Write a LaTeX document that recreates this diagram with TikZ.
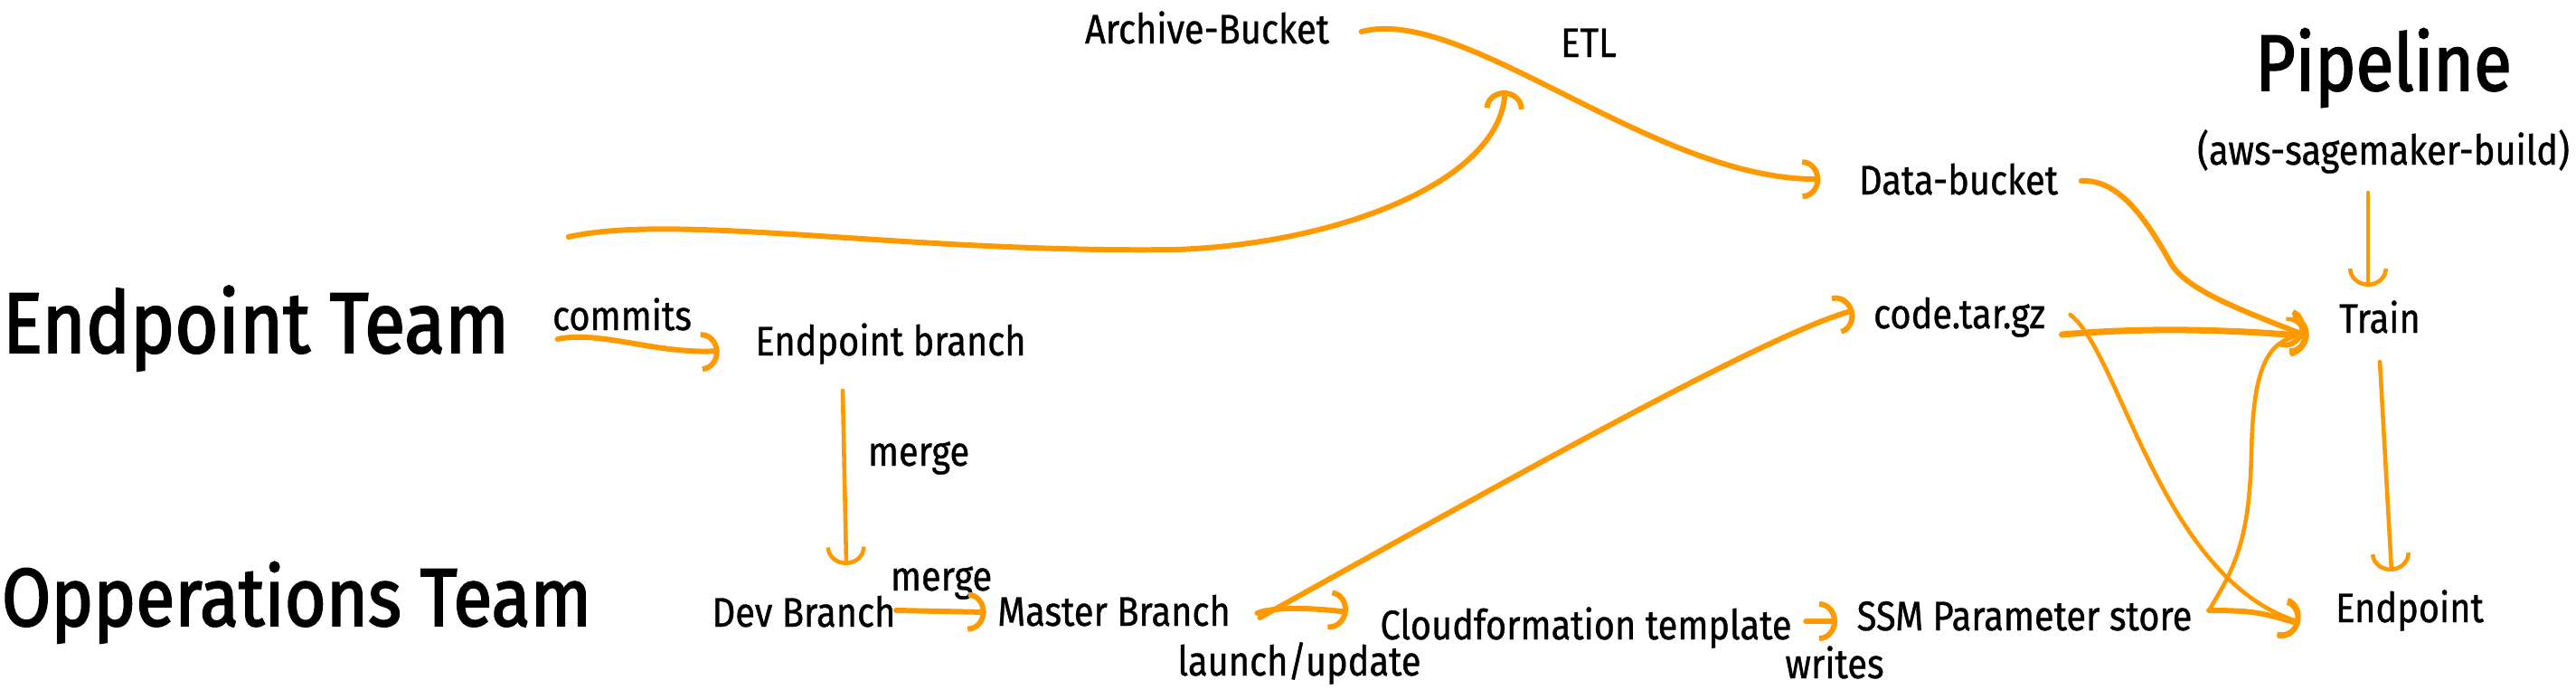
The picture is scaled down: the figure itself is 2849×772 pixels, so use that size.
\documentclass[tikz,border=0pt]{standalone}
\usepackage{fontspec}
\setmainfont{Fira Sans}[FakeStretch=0.87,FakeBold=0.8]
\usetikzlibrary{calc,arrows.meta}

\definecolor{awsorange}{RGB}{255,153,0}

\begin{document}
\begin{tikzpicture}[x=.01cm,y=-.01cm,
    txt/.style={inner sep=0pt,anchor=base,font=\fontsize{13}{15}\selectfont},
    team/.style={inner sep=0pt,anchor=base,font=\fontsize{27}{30}\selectfont\addfontfeature{FakeBold=2}},
    flow/.style={draw=awsorange,line width=1.7pt,line cap=round,-{Arc Barb[length=2mm,width=4.4mm]}},
    thinflow/.style={flow,line width=1.3pt}]

  \useasboundingbox (0,0) rectangle (2849,772);

  %%%% Team and pipeline titles %%%%
  \node[team] (teamEP)  at (283,390) {Endpoint Team};
  \node[team,font=\fontsize{25.8}{30}\selectfont\addfontfeature{FakeBold=2}] (teamOps) at (328,692) {Opperations Team};
  \node[team,font=\fontsize{25}{28}\selectfont\addfontfeature{FakeBold=2}] (pipeline) at (2636,100) {Pipeline};
  \node[txt] (awsbuild) at (2636,182) {(aws-sagemaker-build)};

  %%%% Items %%%%
  \node[txt] (archive)    at (1335,48)  {Archive-Bucket};
  \node[txt] (etl)        at (1757,63)  {ETL};
  \node[txt] (databucket) at (2166,215) {Data-bucket};
  \node[txt] (epbranch)   at (985,393)  {Endpoint branch};
  \node[txt] (codetar)    at (2167,363) {code.tar.gz};
  \node[txt] (train)      at (2632,368) {Train};
  \node[txt] (devbranch)  at (889,693)  {Dev Branch};
  \node[txt] (master)     at (1232,692) {Master Branch};
  \node[txt] (cloudform)  at (1754,707) {Cloudformation template};
  \node[txt] (ssm)        at (2239,697) {SSM Parameter store};
  \node[txt] (endpoint)   at (2665,688) {Endpoint};

  %% labels on the arrows
  \node[txt] (commits) at (688,365)  {commits};
  \node[txt] (merge1)  at (1016,515) {merge};
  \node[txt] (merge2)  at (1041,653) {merge};
  \node[txt] (launch)  at (1437,747) {launch/update};
  \node[txt] (writes)  at (2029,750) {writes};

  %%%% Connectors %%%%
  %% git flow
  \draw[flow] ($(teamEP.base east)+(53,-15)$) .. controls +(47,-10) and +(-70,4) .. ($(epbranch.base west)+(-39,-5)$);
  \draw[thinflow] ($(epbranch.base)+(-53,39)$) -- ($(devbranch.base)+(47,-68)$);
  \draw[flow] ($(devbranch.base east)+(0,-18)$) -- ($(master.base west)+(-12,-15)$);
  \draw[flow] ($(master.base east)+(29,-14)$) .. controls +(20,-8) and +(-30,-4) .. ($(cloudform.base west)+(-35,-30)$);
  \draw[flow] ($(master.base east)+(32,-9)$) .. controls +(311,-173) and +(-95,27) .. ($(codetar.base west)+(-21,-20)$);
  \draw[flow] ($(cloudform.base east)+(15,-20)$) -- ($(ssm.base west)+(-21,-10)$);

  %% data
  \draw[flow] ($(archive.base east)+(35,-13)$) .. controls (1620,5) and (1830,200) .. ($(databucket.base west)+(-42,-17)$);
  \draw[flow] ($(teamEP.base east)+(65,-128)$) .. controls (750,235) and (1000,280) .. (1300,276)
      .. controls (1480,270) and (1660,200) .. ($(etl.base west)+(-61,37)$);

  %% into the pipeline
  \draw[flow] ($(databucket.base east)+(25,-15)$) .. controls (2345,198) and (2375,245) .. (2402,293)
      .. controls (2420,320) and (2470,340) .. ($(train.base west)+(-39,2)$);
  \draw[thinflow] ($(awsbuild.base)+(-17,31)$) -- ($(train.base)+(-13,-51)$);
  \draw[flow,line width=2pt] ($(codetar.base east)+(18,7)$) .. controls +(90,-8) and +(-90,-8) .. ($(train.base west)+(-33,4)$);
  \draw[thinflow] ($(codetar.base east)+(27,-15)$) .. controls (2345,390) and (2390,640) .. ($(endpoint.base west)+(-39,0)$);
  \draw[flow] ($(ssm.base east)+(18,-22)$) .. controls +(50,0) and +(-40,-12) .. ($(endpoint.base west)+(-39,2)$);
  \draw[thinflow] ($(ssm.base east)+(18,-22)$) .. controls (2470,630) and (2488,600) .. (2490,500)
      .. controls (2492,400) and (2510,375) .. ($(train.base west)+(-36,2)$);
  \draw[thinflow] ($(train.base)+(0,32)$) -- ($(endpoint.base)+(-20,-56)$);

\end{tikzpicture}
\end{document}
